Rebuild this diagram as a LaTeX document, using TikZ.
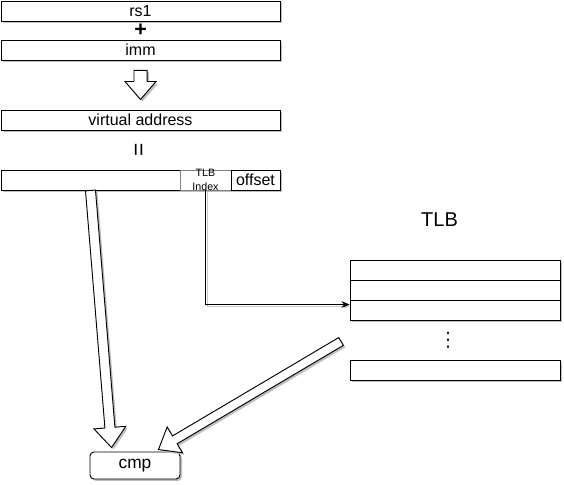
\documentclass[tikz,border=0pt]{standalone}
\usepackage{fontspec}
\setmainfont{Liberation Sans}
\newfontfamily\symfont{DejaVu Sans}
\usetikzlibrary{calc,shadows,arrows.meta}

\tikzset{
	boxshadow/.style={drop shadow={shadow xshift=1.5pt,shadow yshift=-1.5pt,fill=black!25,opacity=1}},
	cell/.style={draw,line width=0.7pt,fill=white,inner sep=0pt,minimum height=15pt,font=\fontsize{12}{14}\selectfont,boxshadow},
	link/.style={draw,line width=0.7pt,-{Stealth[length=6pt,width=5pt]},preaction={draw=black!20,transform canvas={shift={(1pt,-1pt)}}}},
	arrowbody/.style={draw,line width=0.7pt,fill=white,line join=miter,boxshadow}
}

% hollow block arrow: tail, tip, stem half width, head half width, head length
\newcommand{\hollowarrow}[5]{%
	\coordinate (hb) at ($(#2)!#5!(#1)$);
	\draw[arrowbody] ($(#1)!#3!90:(#2)$) -- ($(hb)!#3!90:(#2)$) -- ($(hb)!#4!90:(#2)$) -- (#2)
		-- ($(hb)!#4!-90:(#2)$) -- ($(hb)!#3!-90:(#2)$) -- ($(#1)!#3!-90:(#2)$) -- cycle;
}

\begin{document}
\begin{tikzpicture}[x=0.75pt,y=-0.75pt]
		\useasboundingbox (0,0) rectangle (564,485);

		% Address computation
		\node[cell,minimum width=209.25pt] (rs) at (140.5,11) {rs1};
		\node[font=\fontsize{16}{18}\selectfont\bfseries] (plus) at (140.5,30) {+};
		\node[cell,minimum width=209.25pt] (imm) at (140.5,50) {imm};
		\node[cell,minimum width=209.25pt] (va) at (140.5,120) {virtual address};
		\node[rotate=90,font=\fontsize{17}{20}\selectfont] (eq) at (140.5,150) {=};

		% Address fields
		\node[cell,minimum width=134.25pt] (addr) at (90.5,180) {};
		\node[cell,draw=black!50,minimum width=38.25pt] (idx) at (205.5,180) {};
		\node[cell,minimum width=36.75pt] (off) at (255.5,180) {offset};
		\node[align=center,inner sep=0pt,font=\fontsize{8}{10}\selectfont] (idxtext) at (idx.center) {TLB\\Index};

		% TLB
		\node[font=\fontsize{15}{18}\selectfont] (tlbname) at (439.5,220) {TLB};
		\foreach \n/\y in {A/270,B/290,C/310}
			\node[cell,minimum width=157.5pt] (tlb\n) at (455,\y) {};
		\node[text=black!85,font=\symfont\fontsize{15}{17}\selectfont] (dots) at (448,340) {⋮};
		\node[cell,minimum width=157.5pt] (tlbD) at (455,370) {};

		% Comparator
		\node[cell,rounded corners=3pt,minimum width=67.5pt,minimum height=20.25pt,font=\fontsize{13}{15}\selectfont] (cmp) at (135,465.5) {cmp};

		% Connectors
		\coordinate (hit) at ($(tlbC.north west)+(0,5)$);
		\draw[link] (idx.south) |- (hit);

		\coordinate (midtail) at ($(imm.south)+(0,10)$);
		\coordinate (midtip) at ($(va.north)+(0,-10)$);
		\hollowarrow{midtail}{midtip}{4.9pt}{11.6pt}{13.5pt}

		\coordinate (tagtip) at ($(cmp.north west)+(22,-4)$);
		\hollowarrow{addr.south}{tagtip}{3.75pt}{12pt}{15pt}

		\coordinate (tlbtail) at ($(tlbC.south west)+(-8.5,21)$);
		\coordinate (tlbtip) at ($(cmp.north east)+(-22,-2)$);
		\hollowarrow{tlbtail}{tlbtip}{3.4pt}{11.25pt}{14.25pt}
	\end{tikzpicture}
\end{document}
